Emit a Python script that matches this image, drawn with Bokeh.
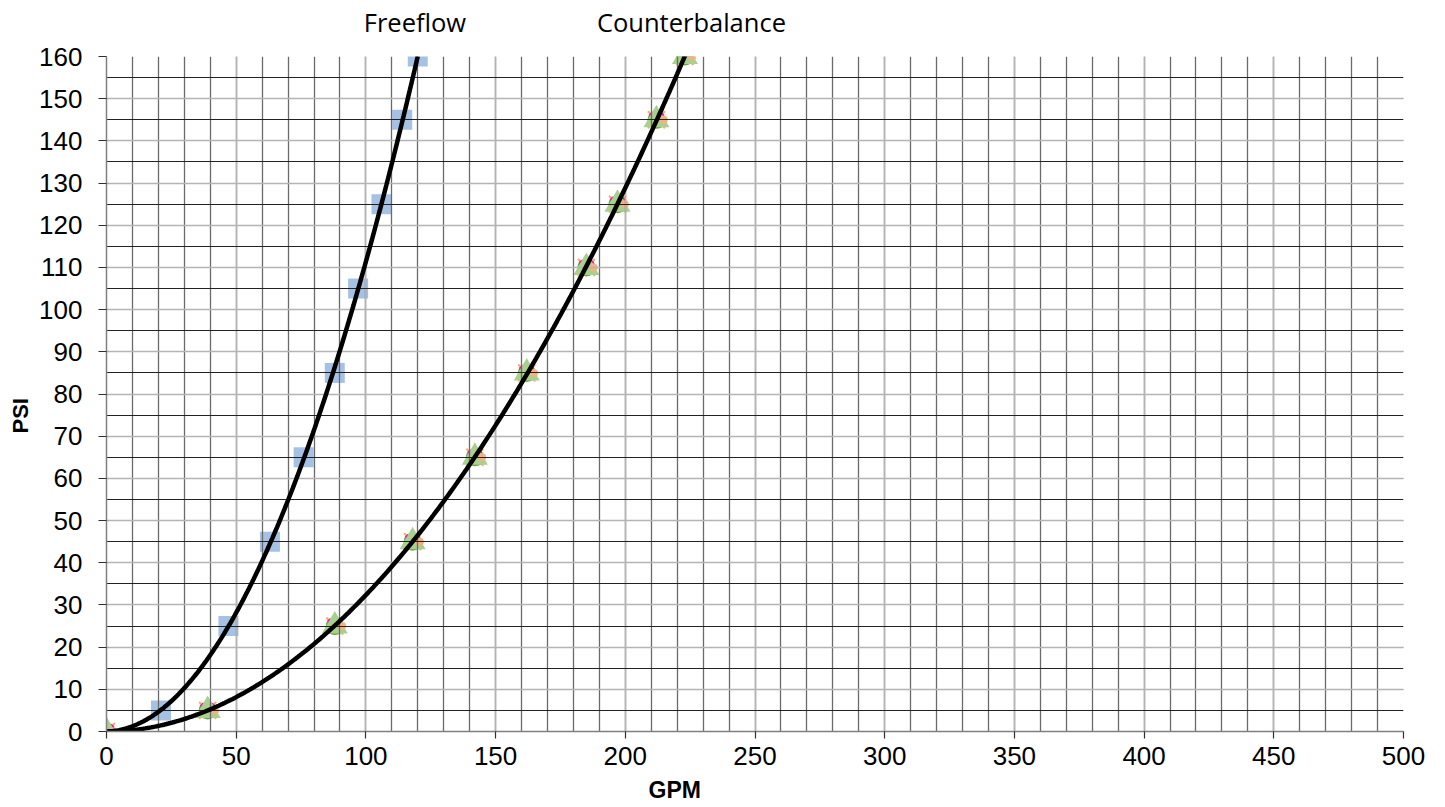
import numpy as np
from bokeh.plotting import figure
from bokeh.models import FixedTicker, Range1d, ColumnDataSource, Title, LinearAxis
from bokeh.transform import dodge
from bokeh.embed import file_html
from bokeh.resources import INLINE

# Data
freeflow_gpm = [0, 21, 47, 63, 76, 88, 97, 106, 114, 120]
freeflow_psi = [0, 5, 25, 45, 65, 85, 105, 125, 145, 160]
counter_gpm = [0, 39, 88, 118, 142, 162, 185, 197, 212, 223]
counter_psi = [0, 5, 25, 45, 65, 85, 110, 125, 145, 160]
x_ticks = [0, 50, 100, 150, 200, 250, 300, 350, 400, 450, 500]
y_ticks = list(range(0, 161, 10))
curve_names = ["Freeflow", "Counterbalance"]

p = figure(frame_width=1297, frame_height=675, output_backend="svg", toolbar_location=None,
           x_range=Range1d(0, 500), y_range=Range1d(0, 160),
           min_border_left=106, min_border_right=34, min_border_top=56, min_border_bottom=10)
p.outline_line_color = None
p.background_fill_color = "white"

# grid
p.xgrid.ticker = FixedTicker(ticks=x_ticks, minor_ticks=list(range(0, 501, 10)))
p.ygrid.ticker = FixedTicker(ticks=y_ticks, minor_ticks=list(range(0, 161, 5)))
p.xgrid.grid_line_color = "#b4b4b4"
p.xgrid.grid_line_width = 1.5
p.ygrid.grid_line_color = "#b4b4b4"
p.ygrid.grid_line_width = 1.5
p.xgrid.minor_grid_line_color = "#6a6a6a"
p.xgrid.minor_grid_line_width = 1.3
p.ygrid.minor_grid_line_color = "#222222"
p.ygrid.minor_grid_line_width = 1.2

# axes
for ax in (p.xaxis[0], p.yaxis[0]):
    ax.axis_line_color = "#808080"
    ax.axis_line_width = 1.5
    ax.major_tick_line_color = "#303030"
    ax.major_tick_line_width = 1.2
    ax.minor_tick_line_color = None
    ax.major_tick_in = 0
    ax.major_label_text_font = "Liberation Sans"
    ax.major_label_text_font_size = "26px"
    ax.major_label_text_color = "black"
p.xaxis.ticker = FixedTicker(ticks=x_ticks)
p.yaxis.ticker = FixedTicker(ticks=y_ticks)
p.xaxis.major_tick_out = 7
p.yaxis.major_tick_out = 8
p.xaxis.major_label_standoff = 8
p.yaxis.major_label_standoff = 16

# curve names on a bare top axis
name_pos = [118.9, 225.5]
top = LinearAxis(ticker=FixedTicker(ticks=name_pos),
                 major_label_overrides={v: n for v, n in zip(name_pos, curve_names)},
                 axis_line_color=None, major_tick_line_color=None, minor_tick_line_color=None,
                 major_tick_in=0, major_tick_out=0, major_label_standoff=18,
                 major_label_text_font="Open Sans", major_label_text_font_size="25.5px",
                 major_label_text_color="black")
p.add_layout(top, "above")

# trendlines (quadratic fit of each series)
cf = np.polyfit(freeflow_gpm, freeflow_psi, 2)
xf = np.linspace(0, max(freeflow_gpm), 200)
p.line(xf, np.polyval(cf, xf), line_color="black", line_width=4.5)
cc = np.polyfit(counter_gpm, counter_psi, 2)
xc = np.linspace(0, max(counter_gpm), 300)
p.line(xc, np.polyval(cc, xc), line_color="black", line_width=4.5)

# markers
src = ColumnDataSource(dict(x=counter_gpm, y=counter_psi))
p.scatter(freeflow_gpm[1:], freeflow_psi[1:], marker="square", size=20,
          fill_color="#A5C1E4", line_color=None, level="underlay")
p.scatter("x", "y", source=src, marker="circle", size=18,
          fill_color="#6BA446", line_color=None, level="underlay")
p.scatter("x", "y", source=src, marker="x", size=24,
          line_color="#F4B060", line_width=2, level="underlay")
p.scatter("x", "y", source=src, marker="x", size=18,
          line_color="#FF00CC", line_width=4, level="underlay")
p.scatter("x", "y", source=src, marker="triangle", size=26,
          fill_color="#A9D08E", line_color=None, level="underlay")
p.scatter(dodge("x", 2.8, range=p.x_range), "y", source=src, marker="circle", size=8,
          fill_color="#F4B183", line_color=None, level="underlay")

# axis titles
p.add_layout(Title(text="GPM", align="left", offset=542, standoff=14,
                   text_font="Liberation Sans", text_font_style="bold", text_font_size="23px",
                   text_line_height=1.0, text_color="black"), "below")
p.add_layout(Title(text="PSI", align="left", offset=298, standoff=8,
                   text_font="Liberation Sans", text_font_style="bold", text_font_size="22px",
                   text_color="black"), "left")

open("out.html", "w").write(file_html(p, INLINE))
